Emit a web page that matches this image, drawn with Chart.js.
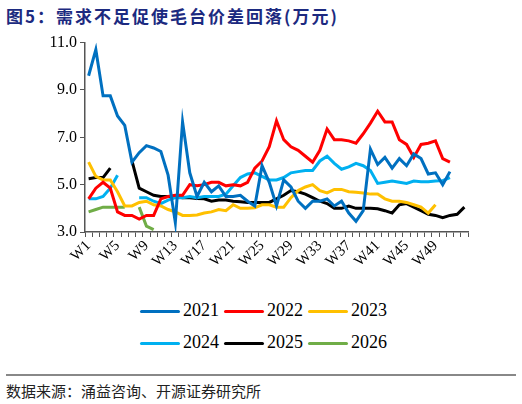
<!DOCTYPE html>
<html><head><meta charset="utf-8">
<script src="https://cdn.jsdelivr.net/npm/chart.js@4"></script>
<style>
body{margin:0;width:522px;height:404px;background:#fff;position:relative;overflow:hidden;font-family:"Liberation Serif",serif}
#t{position:absolute;left:6px;top:3px;font:bold 17px "Noto Sans CJK SC";color:#1c2a80;letter-spacing:2px}
#c{position:absolute;left:0;top:30px}
#lg{position:absolute;left:140px;top:300px;width:260px;font:18px "Liberation Serif";color:#000}
.it{display:inline-block;width:84px;height:32px;white-space:nowrap}
.it span{display:inline-block;width:40px;height:3px;vertical-align:middle;margin-right:3px;border-radius:2px}
#hr{position:absolute;left:6px;top:374px;width:510px;height:2px;background:#888}
#src{position:absolute;left:6px;top:380px;font:15px "Noto Sans CJK SC";color:#222}
</style></head><body>
<div id="t">图5：需求不足促使毛台价差回落(万元)</div>
<canvas id="c" width="522" height="250"></canvas>
<div id="lg"></div>
<div id="hr"></div>
<div id="src">数据来源：涌益咨询、开源证券研究所</div>
<script>
const weeks = Array.from({length:53},(_,i)=>'W'+(i+1));
const y2021 = [9.6,10.7,8.75,8.75,7.9,7.5,5.95,6.35,6.65,6.55,6.4,5.4,3.4,7.65,5.5,4.5,5.1,4.7,4.95,4.5,4.5,4.55,4.3,4.1,5.8,5.1,4.1,5.2,4.9,4.3,4.0,4.3,4.3,4.4,4.1,4.3,3.8,3.45,3.9,6.5,5.85,6.15,5.7,6.1,5.8,6.3,6.1,5.45,5.5,5.0,5.55,null,null];
const y2022 = [4.4,4.85,5.1,4.85,3.85,3.7,3.7,3.55,3.7,3.7,4.4,4.5,4.55,4.55,5.0,4.95,5.0,5.1,5.1,4.95,5.0,4.95,5.1,5.7,6.0,6.6,7.7,6.9,6.6,6.45,6.2,5.95,6.45,7.35,6.9,6.9,6.85,6.75,7.15,7.6,8.1,7.65,7.65,6.9,6.7,6.15,6.7,6.75,6.85,6.1,5.95,null,null];
const y2023 = [5.95,5.35,5.2,5.2,4.7,4.1,4.1,4.25,4.3,4.15,4.1,3.95,3.85,3.7,3.7,3.72,3.8,3.85,3.95,3.9,4.15,4.0,4.0,4.02,4.15,4.15,4.05,4.05,4.45,4.75,4.9,5.0,4.75,4.65,4.8,4.8,4.7,4.68,4.65,4.6,4.6,4.4,4.3,4.3,4.25,4.15,4.05,3.8,4.15,null,null,null,null];
const y2024 = [4.4,4.4,4.5,4.85,5.4,null,null,4.45,4.45,4.3,4.2,4.35,4.45,4.45,4.5,4.45,4.5,4.5,4.5,4.6,4.95,5.3,5.45,5.5,5.35,5.2,5.2,5.3,5.5,5.55,5.6,5.6,6.0,6.2,5.9,5.65,5.75,5.9,5.8,5.6,5.05,5.1,5.15,5.1,5.05,5.15,5.12,5.12,5.15,5.17,5.3,null,null];
const y2025 = [5.25,5.3,5.3,5.7,null,null,6.0,4.85,4.7,4.55,4.5,4.5,4.5,4.45,4.45,4.42,4.4,4.3,4.35,4.35,4.3,4.28,4.25,4.25,4.25,4.25,4.4,4.55,4.75,4.7,4.6,4.45,4.3,4.2,4.0,4.0,4.1,4.0,4.0,4.0,3.98,3.9,3.8,4.15,4.2,4.05,3.9,3.75,3.7,3.6,3.7,3.75,4.05];
const y2026 = [3.85,3.95,4.05,4.05,4.05,4.05,null,4.05,3.25,3.1,null,null,null,null,null,null,null,null,null,null,null,null,null,null,null,null,null,null,null,null,null,null,null,null,null,null,null,null,null,null,null,null,null,null,null,null,null,null,null,null,null,null,null];
const series = [['2021',y2021,'#0070C0'],['2022',y2022,'#FF0000'],['2023',y2023,'#FFC000'],['2024',y2024,'#00B0F0'],['2025',y2025,'#000000'],['2026',y2026,'#70AD47']];
const lg=document.getElementById('lg');
series.forEach(s=>{lg.innerHTML+=`<div class="it"><span style="background:${s[2]}"></span>${s[0]}</div>`;});
new Chart(document.getElementById('c'),{type:'line',
data:{labels:weeks,datasets:series.map(s=>({label:s[0],data:s[1],borderColor:s[2],backgroundColor:s[2],borderWidth:3,pointRadius:0,tension:0,spanGaps:false}))},
options:{animation:false,responsive:false,layout:{padding:{top:4,right:54,left:0,bottom:0}},
plugins:{legend:{display:false},tooltip:{enabled:false}},
scales:{
x:{offset:true,grid:{offset:true,drawOnChartArea:false,tickLength:5,color:'#555'},border:{color:'#555',width:1.5},
ticks:{autoSkip:false,maxRotation:45,minRotation:45,color:'#000',font:{family:'Liberation Serif',size:15},padding:0,
callback:(v,i)=>(i%4===0&&i<52)?weeks[i]:''},afterFit:s=>{s.height=48;}},
y:{min:3,max:11,grid:{drawOnChartArea:false,tickLength:5,color:'#555'},border:{color:'#555',width:1.5},
ticks:{stepSize:2,color:'#000',font:{family:'Liberation Serif',size:16},callback:v=>v.toFixed(1)},afterFit:s=>{s.width=85;}}
}}});
</script></body></html>
